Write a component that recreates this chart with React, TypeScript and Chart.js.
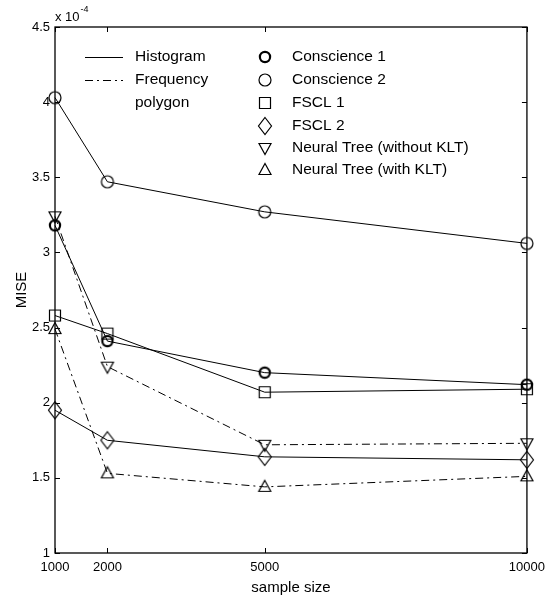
import React, { useEffect, useRef } from 'react';
import { Chart, registerables } from 'chart.js';

Chart.register(...registerables);

// ---- data (MISE values in units of 1e-4) ----
const sampleSizes = [1000, 2000, 5000, 10000];
const conscience1 = [3.18, 2.41, 2.2, 2.12];
const conscience2 = [4.03, 3.47, 3.27, 3.06];
const fscl1 = [2.58, 2.46, 2.07, 2.09];
const fscl2 = [1.95, 1.75, 1.64, 1.62];
const neuralTreeWithoutKLT = [3.24, 2.24, 1.72, 1.73];
const neuralTreeWithKLT = [2.49, 1.53, 1.44, 1.51];

const yTickValues = [1, 1.5, 2, 2.5, 3, 3.5, 4, 4.5];
const seriesNames = [
  'Conscience 1',
  'Conscience 2',
  'FSCL 1',
  'FSCL 2',
  'Neural Tree (without KLT)',
  'Neural Tree (with KLT)',
];
const markerKinds = ['boldCircle', 'circle', 'square', 'diamond', 'triDown', 'triUp'];
const lineStyleNames = ['Histogram', 'Frequency', 'polygon'];

const FONT = '"Liberation Sans", Arial, Helvetica, sans-serif';
const DASH_DOT = [8, 4, 2, 4];

function makeMarker(kind: string): HTMLCanvasElement {
  const c = document.createElement('canvas');
  c.width = 24;
  c.height = 24;
  const g = c.getContext('2d') as CanvasRenderingContext2D;
  g.strokeStyle = '#000';
  g.lineWidth = 1.2;
  const cx = 12;
  const cy = 12;
  g.beginPath();
  switch (kind) {
    case 'boldCircle':
      g.lineWidth = 2.2;
      g.arc(cx, cy, 5.1, 0, Math.PI * 2);
      break;
    case 'circle':
      g.arc(cx, cy, 6, 0, Math.PI * 2);
      break;
    case 'square':
      g.rect(cx - 5.5, cy - 5.5, 11, 11);
      break;
    case 'diamond':
      g.moveTo(cx, cy - 8.5);
      g.lineTo(cx + 6.5, cy);
      g.lineTo(cx, cy + 8.5);
      g.lineTo(cx - 6.5, cy);
      g.closePath();
      break;
    case 'triDown':
      g.moveTo(cx - 6, cy - 4.5);
      g.lineTo(cx + 6, cy - 4.5);
      g.lineTo(cx, cy + 6.5);
      g.closePath();
      break;
    case 'triUp':
      g.moveTo(cx, cy - 6.5);
      g.lineTo(cx + 6, cy + 4.5);
      g.lineTo(cx - 6, cy + 4.5);
      g.closePath();
      break;
  }
  g.stroke();
  return c;
}

export default function App() {
  const canvasRef = useRef<HTMLCanvasElement | null>(null);

  useEffect(() => {
    const canvas = canvasRef.current;
    if (!canvas) return;
    const markers = markerKinds.map(makeMarker);
    const seriesValues = [
      conscience1,
      conscience2,
      fscl1,
      fscl2,
      neuralTreeWithoutKLT,
      neuralTreeWithKLT,
    ];
    const dashed = [false, false, false, false, true, true];

    const framePlugin = {
      id: 'frameAndLegend',
      beforeDatasetsDraw(chart: any) {
        const { ctx, chartArea: a, scales } = chart;
        ctx.save();
        ctx.strokeStyle = '#000';
        ctx.lineWidth = 1.3;
        ctx.setLineDash([]);
        ctx.strokeRect(a.left, a.top, a.right - a.left, a.bottom - a.top);
        const tl = 5;
        ctx.lineWidth = 1;
        ctx.beginPath();
        for (const v of yTickValues) {
          const y = Math.round(scales.y.getPixelForValue(v)) + 0.5;
          ctx.moveTo(a.left, y);
          ctx.lineTo(a.left + tl, y);
          ctx.moveTo(a.right, y);
          ctx.lineTo(a.right - tl, y);
        }
        for (const v of sampleSizes) {
          const x = Math.round(scales.x.getPixelForValue(v)) + 0.5;
          ctx.moveTo(x, a.top);
          ctx.lineTo(x, a.top + tl);
          ctx.moveTo(x, a.bottom);
          ctx.lineTo(x, a.bottom - tl);
        }
        ctx.stroke();
        ctx.restore();
      },
      afterDraw(chart: any) {
        const { ctx, chartArea: a } = chart;
        ctx.save();
        // exponent label
        ctx.fillStyle = '#000';
        ctx.strokeStyle = '#000';
        ctx.textBaseline = 'middle';
        ctx.textAlign = 'left';
        ctx.font = `13px ${FONT}`;
        ctx.fillText('x 10', a.left, 17);
        const w = ctx.measureText('x 10').width;
        ctx.font = `9px ${FONT}`;
        ctx.fillText('-4', a.left + w + 1, 10);

        // legend: line styles
        ctx.font = `15.5px ${FONT}`;
        const rows = [57, 80, 103, 126, 148, 170];
        ctx.lineWidth = 1;
        ctx.beginPath();
        ctx.moveTo(85, rows[0] + 0.5);
        ctx.lineTo(123, rows[0] + 0.5);
        ctx.stroke();
        ctx.setLineDash(DASH_DOT);
        ctx.beginPath();
        ctx.moveTo(85, rows[1] + 0.5);
        ctx.lineTo(123, rows[1] + 0.5);
        ctx.stroke();
        ctx.setLineDash([]);
        lineStyleNames.forEach((t, i) => {
          ctx.fillText(t, 135, rows[i]);
        });

        // legend: markers
        seriesNames.forEach((t, i) => {
          const m = markers[i];
          ctx.drawImage(m, 265 - m.width / 2, rows[i] - m.height / 2);
          ctx.fillText(t, 292, rows[i]);
        });
        ctx.restore();
      },
    };

    const chart = new Chart(canvas, {
      type: 'line',
      data: {
        datasets: seriesNames.map((name, i) => ({
          label: name,
          data: sampleSizes.map((x, j) => ({ x, y: seriesValues[i][j] })),
          borderColor: '#000',
          borderWidth: 1,
          borderDash: dashed[i] ? DASH_DOT : [],
          backgroundColor: 'rgba(0,0,0,0)',
          pointStyle: markers[i] as any,
          pointRadius: 6,
          tension: 0,
          fill: false,
          clip: false,
        })),
      },
      options: {
        responsive: false,
        animation: false,
        devicePixelRatio: 1,
        layout: { padding: { left: 0, top: 27, right: 24, bottom: 0 } },
        plugins: {
          legend: { display: false },
          tooltip: { enabled: false },
        },
        scales: {
          x: {
            type: 'linear',
            min: 1000,
            max: 10000,
            afterBuildTicks: (s: any) => {
              s.ticks = sampleSizes.map((v) => ({ value: v }));
            },
            afterFit: (s: any) => {
              s.height = 48;
            },
            grid: { display: false, drawTicks: false },
            border: { display: false },
            ticks: {
              padding: 7,
              color: '#000',
              maxRotation: 0,
              autoSkip: false,
              font: { family: FONT, size: 13 },
              callback: (v: any) => String(v),
            },
            title: {
              display: true,
              text: 'sample size',
              color: '#000',
              font: { family: FONT, size: 15 },
              padding: { top: 0, bottom: 4 },
            },
          },
          y: {
            type: 'linear',
            min: 1,
            max: 4.5,
            afterBuildTicks: (s: any) => {
              s.ticks = yTickValues.map((v) => ({ value: v }));
            },
            afterFit: (s: any) => {
              s.width = 55;
            },
            grid: { display: false, drawTicks: false },
            border: { display: false },
            ticks: {
              padding: 5,
              color: '#000',
              font: { family: FONT, size: 13 },
              callback: (v: any) => String(v),
            },
            title: {
              display: true,
              text: 'MISE',
              color: '#000',
              font: { family: FONT, size: 15 },
              padding: { top: 13, bottom: 0 },
            },
          },
        },
      } as any,
      plugins: [framePlugin],
    });

    return () => {
      chart.destroy();
    };
  }, []);

  return (
    <div style={{ position: 'absolute', left: 0, top: 0, width: 552, height: 601, background: '#fff' }}>
      <canvas ref={canvasRef} width={552} height={601} style={{ display: 'block' }} />
    </div>
  );
}
